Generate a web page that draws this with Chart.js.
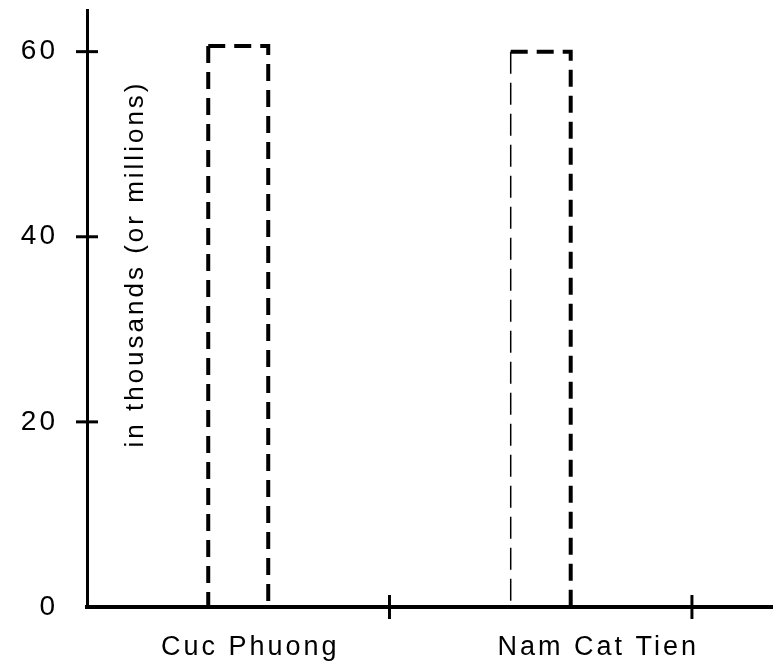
<!DOCTYPE html>
<html>
<head>
<meta charset="utf-8">
<title>Cuc Phuong / Nam Cat Tien</title>
<script src="https://cdn.jsdelivr.net/npm/chart.js@4.4.1/dist/chart.umd.min.js"></script>
<style>
    html, body { margin: 0; padding: 0; background: #fff; overflow: hidden; }
    #wrap { width: 773px; height: 669px; }
</style>
</head>
<body>
<div id="wrap"><canvas id="chart" width="773" height="669"></canvas></div>
<script>
// Values
const categories = ['Cuc Phuong', 'Nam Cat Tien'];
const values = [60.6, 60];
const yTicks = [0, 20, 40, 60];

// Where the names sit on the x axis (category units) and the divider ticks
const labelAt = [0.54, 1.69];
const dividers = [1, 2];

// Left edge of the second bar is drawn with a thin pen in the original
const leftEdgeWidths = [4, 1.5];

const INK = '#000';
const FONT = "'Liberation Sans', Arial, sans-serif";
const SPACING = '3px';

// The scanned lettering is spaced out, so widen all canvas text a bit
const spacedText = {
    id: 'spacedText',
    beforeUpdate(chart) { chart.ctx.letterSpacing = SPACING; },
    beforeDraw(chart) { chart.ctx.letterSpacing = SPACING; }
};

// Bars are open dashed outlines (no bottom edge)
const dashedBars = {
    id: 'dashedBars',
    afterDatasetsDraw(chart) {
        const c = chart.ctx;
        const meta = chart.getDatasetMeta(0);
        c.save();
        c.strokeStyle = INK;
        c.lineCap = 'butt';
        meta.data.forEach((bar, i) => {
            const { x, y, base, width } = bar.getProps(['x', 'y', 'base', 'width'], true);
            const left = x - width / 2;
            const right = x + width / 2;

            // left side
            c.lineWidth = leftEdgeWidths[i];
            c.setLineDash(leftEdgeWidths[i] > 2 ? [17, 9] : [22, 9]);
            c.beginPath();
            c.moveTo(left, y);
            c.lineTo(left, base);
            c.stroke();

            // top and right side
            c.lineWidth = 4;
            c.setLineDash([17, 9]);
            c.beginPath();
            c.moveTo(left, y);
            c.lineTo(right, y);
            c.lineTo(right, base);
            c.stroke();
        });
        c.restore();
    }
};

// Tick marks cross the axis lines
const crossTicks = {
    id: 'crossTicks',
    afterDraw(chart) {
        const { ctx: c, chartArea: a, scales } = chart;
        c.save();
        c.strokeStyle = INK;
        c.lineWidth = 3;
        yTicks.filter(v => v > 0).forEach(v => {
            const py = scales.y.getPixelForValue(v);
            c.beginPath();
            c.moveTo(a.left - 11, py);
            c.lineTo(a.left + 11, py);
            c.stroke();
        });
        dividers.forEach(v => {
            const px = scales.x.getPixelForValue(v);
            c.beginPath();
            c.moveTo(px, a.bottom - 12);
            c.lineTo(px, a.bottom + 12);
            c.stroke();
        });
        c.restore();
    }
};

// Axis title sits inside the plot, right of the y axis
const innerTitle = {
    id: 'innerTitle',
    afterDraw(chart) {
        const { ctx: c, chartArea: a } = chart;
        c.save();
        c.translate(a.left + 56, a.top + 254);
        c.rotate(-Math.PI / 2);
        c.font = '26px ' + FONT;
        c.fillStyle = INK;
        c.textAlign = 'center';
        c.textBaseline = 'alphabetic';
        c.fillText('in thousands (or millions)', 0, 0);
        c.restore();
    }
};

new Chart(document.getElementById('chart').getContext('2d'), {
    type: 'bar',
    data: {
        datasets: [{
            label: 'in thousands (or millions)',
            data: values.map((v, i) => ({ x: i + 0.5, y: v })),
            backgroundColor: 'rgba(0,0,0,0)',
            borderWidth: 0,
            barThickness: 60
        }]
    },
    options: {
        responsive: false,
        animation: false,
        layout: { padding: { top: 10, left: 0, right: 0, bottom: 0 } },
        plugins: {
            legend: { display: false },
            tooltip: { enabled: false }
        },
        scales: {
            x: {
                type: 'linear',
                min: 0,
                max: 2.268,
                offset: false,
                grid: { drawOnChartArea: false, offset: false, color: 'rgba(0,0,0,0)', tickLength: 12 },
                border: { color: INK, width: 4 },
                afterBuildTicks: s => { s.ticks = labelAt.map(v => ({ value: v })); },
                afterFit: s => {
                    s.height = 62;
                    s.paddingLeft = 0;
                    s.paddingRight = 0;
                },
                ticks: {
                    callback: (v, i) => categories[i],
                    color: INK,
                    font: { family: FONT, size: 27 },
                    padding: 12,
                    autoSkip: false,
                    maxRotation: 0
                }
            },
            y: {
                min: 0,
                max: 64.5,
                grid: { drawOnChartArea: false, color: 'rgba(0,0,0,0)', tickLength: 11 },
                border: { color: INK, width: 3 },
                afterBuildTicks: s => { s.ticks = yTicks.map(v => ({ value: v })); },
                afterFit: s => {
                    s.width = 87;
                    s.paddingTop = 0;
                    s.paddingBottom = 0;
                },
                ticks: {
                    color: INK,
                    font: { family: FONT, size: 28 },
                    padding: 18
                }
            }
        }
    },
    plugins: [spacedText, dashedBars, crossTicks, innerTitle]
});
</script>
</body>
</html>
